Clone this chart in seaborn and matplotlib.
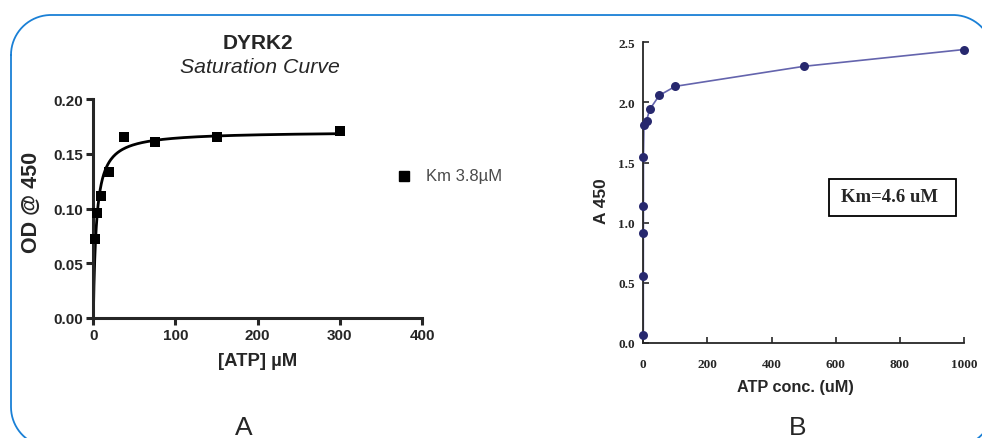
import numpy as np
import pandas as pd
import seaborn as sns
import matplotlib
matplotlib.use("Agg")
import matplotlib.pyplot as plt
from matplotlib.patches import Rectangle

# Panel A: DYRK2 saturation data
atp_a = [2.3, 4.7, 9.4, 18.75, 37.5, 75, 150, 300]
od_a = [0.072, 0.0956, 0.111, 0.1336, 0.1656, 0.161, 0.1656, 0.1708]
KM_A = 3.8
legend_a = "Km 3.8µM"

# Panel B: A450 vs ATP concentration
atp_b = [0, 0.1, 0.2, 0.3, 0.5, 2, 10, 20, 50, 100, 500, 1000]
a450_b = [0.069, 0.56, 0.914, 1.139, 1.549, 1.815, 1.848, 1.942, 2.059, 2.134, 2.30, 2.44]
km_b_text = "Km=4.6 uM"

sns.set_style("ticks")
plt.rcParams["font.family"] = ["Liberation Sans", "DejaVu Sans"]

W, H = 982, 439
fig = plt.figure(figsize=(W / 100, H / 100), dpi=100)


def frac(x0, y0, x1, y1):
    """Pixel box (top-left origin) -> figure fraction rect."""
    return [x0 / W, (H - y1) / H, (x1 - x0) / W, (y1 - y0) / H]


def fx(x):
    return x / W


def fy(y):
    return 1 - y / H


# ---------------- Panel A ----------------
axA = fig.add_axes(frac(93.3, 100, 422, 319))
df_a = pd.DataFrame({"ATP": atp_a, "OD": od_a})

# Michaelis-Menten fit with the stated Km; Vmax by least squares
f = np.asarray(atp_a) / (KM_A + np.asarray(atp_a))
vmax = float(np.sum(f * np.asarray(od_a)) / np.sum(f * f))
xfit = np.concatenate([np.linspace(0, 20, 200), np.linspace(20, 300, 200)])
df_fit = pd.DataFrame({"ATP": xfit, "OD": vmax * xfit / (KM_A + xfit)})

sns.lineplot(data=df_fit, x="ATP", y="OD", ax=axA, color="black", lw=2.0,
             estimator=None, sort=False)
sns.scatterplot(data=df_a, x="ATP", y="OD", ax=axA, marker="s", color="black",
                s=45, edgecolor="black", linewidth=0, zorder=5, clip_on=False)

axA.set_xlim(0, 400)
axA.set_ylim(0, 0.20)
axA.set_xticks([0, 100, 200, 300, 400])
axA.set_yticks([0.00, 0.05, 0.10, 0.15, 0.20])
axA.set_yticklabels(["0.00", "0.05", "0.10", "0.15", "0.20"])
for s in ["top", "right"]:
    axA.spines[s].set_visible(False)
for s in ["left", "bottom"]:
    axA.spines[s].set_linewidth(2.2)
axA.tick_params(axis="both", direction="out", length=5, width=2.2,
                labelsize=11, pad=2)
for lab in axA.get_xticklabels() + axA.get_yticklabels():
    lab.set_fontweight("bold")
axA.set_xlabel("[ATP] µM", fontsize=13.3, fontweight="bold")
axA.xaxis.set_label_coords(0.5, (319 - 362) / 219)
axA.xaxis.label.set_va("center")
axA.set_ylabel("OD @ 450", fontsize=15.5, fontweight="bold")
axA.yaxis.set_label_coords((31 - 93.3) / 328.7, (319 - 202) / 219)
axA.yaxis.label.set_va("center")

fig.text(fx(257.5), fy(49), "DYRK2", ha="center", va="baseline",
         fontsize=15, fontweight="bold")
fig.text(fx(260), fy(73), "Saturation Curve", ha="center",
         va="baseline", fontsize=15.3, style="italic")

# legend entry
fig.lines.append(plt.Line2D([fx(404)], [fy(177)], marker="s", color="black",
                            markersize=6.5, linestyle="none",
                            transform=fig.transFigure))
fig.text(fx(426), fy(177), legend_a, ha="left", va="center",
         fontsize=12, color="#4a4a4a")

# ---------------- Panel B ----------------
navy = "#27286e"
axB = fig.add_axes(frac(643.3, 43.3, 964, 344))
df_b = pd.DataFrame({"ATP": atp_b, "A450": a450_b})
sns.lineplot(data=df_b, x="ATP", y="A450", ax=axB, color="#6464ad", lw=1.2,
             estimator=None, sort=False)
sns.scatterplot(data=df_b, x="ATP", y="A450", ax=axB, color=navy, s=42,
                edgecolor=navy, linewidth=0, zorder=5, clip_on=False)

axB.set_xlim(0, 1000)
axB.set_ylim(0, 2.5)
axB.set_xticks([0, 200, 400, 600, 800, 1000])
axB.set_yticks([0.0, 0.5, 1.0, 1.5, 2.0, 2.5])
axB.set_yticklabels(["0.0", "0.5", "1.0", "1.5", "2.0", "2.5"])
for s in ["top", "right"]:
    axB.spines[s].set_visible(False)
for s in ["left", "bottom"]:
    axB.spines[s].set_linewidth(1.3)
axB.tick_params(axis="both", direction="in", length=4, width=1.2,
                labelsize=9.5)
axB.tick_params(axis="x", pad=11)
axB.tick_params(axis="y", pad=6)
for lab in axB.get_xticklabels() + axB.get_yticklabels():
    lab.set_fontfamily(["Liberation Serif", "DejaVu Serif"])
    lab.set_fontweight("bold")
axB.set_xlabel("ATP conc. (uM)", fontsize=11.7, fontweight="bold")
axB.xaxis.set_label_coords((795.7 - 643.3) / 320.7, (344 - 388) / 300.7)
axB.xaxis.label.set_va("center")
axB.set_ylabel("A 450", fontsize=12.5, fontweight="bold")
axB.yaxis.set_label_coords((601.7 - 643.3) / 320.7, (344 - 201) / 300.7)
axB.yaxis.label.set_va("center")

fig.text(fx(889.5), fy(198), km_b_text, ha="center", va="center",
         fontsize=13.5, fontweight="bold",
         family=["Liberation Serif", "DejaVu Serif"])
fig.add_artist(Rectangle((fx(828.5), fy(216.7)), fx(956) - fx(828.5),
                         fy(180) - fy(216.7), transform=fig.transFigure,
                         fill=False, ec="black", lw=1.3))

# panel letters
fig.text(fx(244), fy(428), "A", ha="center", va="center", fontsize=19)
fig.text(fx(798), fy(428), "B", ha="center", va="center", fontsize=19)

# rounded frame around both panels (pixel geometry, converted to figure units)
x0, x1, y0, y1, r = 11.0, 993.0, 16.0, 448.0, 40.0
pts = []
for a in np.linspace(np.pi, np.pi / 2, 40):          # top-left corner
    pts.append((x0 + r + r * np.cos(a), y0 + r - r * np.sin(a)))
for a in np.linspace(np.pi / 2, 0, 40):              # top-right corner
    pts.append((x1 - r + r * np.cos(a), y0 + r - r * np.sin(a)))
for a in np.linspace(0, -np.pi / 2, 40):             # bottom-right corner
    pts.append((x1 - r + r * np.cos(a), y1 - r - r * np.sin(a)))
for a in np.linspace(-np.pi / 2, -np.pi, 40):        # bottom-left corner
    pts.append((x0 + r + r * np.cos(a), y1 - r - r * np.sin(a)))
pts.append(pts[0])
pts = np.array(pts)
fig.add_artist(plt.Line2D(fx(pts[:, 0]), fy(pts[:, 1]), transform=fig.transFigure,
                          color="#1a80d6", lw=1.3, clip_on=False))

fig.savefig("out.png", dpi=100)
